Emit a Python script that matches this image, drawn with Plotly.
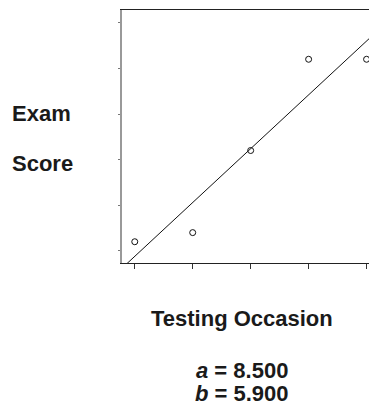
import numpy as np
import plotly.graph_objects as go

# data
occasions = [1, 2, 3, 4, 5]
scores = [16, 17, 26, 36, 36]
x_ticks = [1, 2, 3, 4, 5]
y_ticks = [15, 20, 25, 30, 35, 40]

# least-squares fit
b, a = np.polyfit(occasions, scores, 1)
x_range = [0.78, 5.18]
line_x = np.array([0.6, 5.4])
line_y = a + b * line_x

fig = go.Figure()

fig.add_trace(go.Scatter(
    x=line_x, y=line_y, mode="lines",
    line=dict(color="#111111", width=1),
    showlegend=False, hoverinfo="skip"
))

fig.add_trace(go.Scatter(
    x=occasions, y=scores, mode="markers",
    marker=dict(symbol="circle-open", size=6, color="#111111",
                line=dict(width=1)),
    showlegend=False, cliponaxis=False
))

font = dict(family="Liberation Sans, Arial, sans-serif", size=22, color="#1a1a1a")

annotations = [
    dict(text="<b>Exam</b>", x=-0.44, y=0.589, xanchor="left"),
    dict(text="<b>Score</b>", x=-0.44, y=0.392, xanchor="left"),
    dict(text="<b>Testing Occasion</b>", x=0.472, y=-0.22, xanchor="center"),
    dict(text="<b><i>a</i> = %.3f</b>" % a, x=0.472, y=-0.425, xanchor="center"),
    dict(text="<b><i>b</i> = %.3f</b>" % b, x=0.472, y=-0.516, xanchor="center"),
]
for ann in annotations:
    fig.add_annotation(xref="paper", yref="paper", yanchor="middle",
                       showarrow=False, font=font, **ann)

fig.update_xaxes(
    range=x_range, tickvals=x_ticks, showticklabels=False,
    ticks="outside", ticklen=5, tickcolor="#333333", tickwidth=1,
    showline=True, linecolor="#222222", linewidth=1, mirror=True,
    showgrid=False, zeroline=False
)
fig.update_yaxes(
    range=[13.67, 41.4], tickvals=y_ticks, showticklabels=False,
    ticks="outside", ticklen=2, tickcolor="#777777", tickwidth=1,
    showline=True, linecolor="#999999", linewidth=2,
    showgrid=False, zeroline=False
)

# page body has an 8px margin, so shift everything up/left by 8
fig.update_layout(
    width=377, height=408,
    margin=dict(l=114, r=8, t=2, b=153),
    plot_bgcolor="white", paper_bgcolor="white"
)

fig.write_html("out.html")
